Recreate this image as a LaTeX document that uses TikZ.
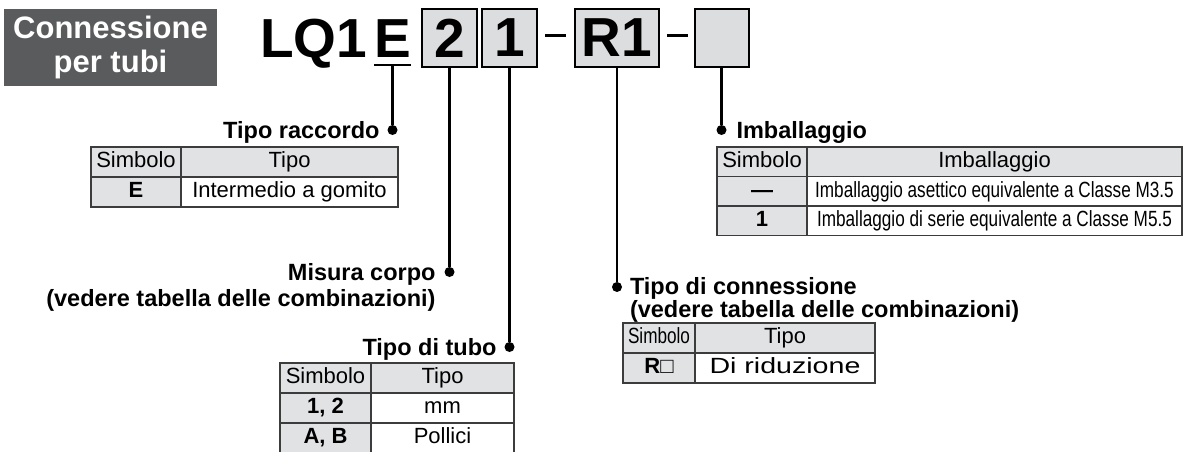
\documentclass[tikz,border=0pt]{standalone}
\usepackage{fontspec}
\setsansfont{Liberation Sans}
\newfontfamily\narrowsans[FakeStretch=0.78]{Liberation Sans}
\newfontfamily\widesans[FakeStretch=1.3]{Liberation Sans}
\usetikzlibrary{positioning}
\definecolor{titlegray}{HTML}{5A5B5D}
\definecolor{boxgray}{HTML}{DCDDDF}
\definecolor{cellgray}{HTML}{E1E2E4}
\definecolor{rulegray}{HTML}{3C3C3C}

\begin{document}
\begin{tikzpicture}[x=1pt, y=-1pt,
    every node/.style={outer sep=0pt},
    title/.style={fill=titlegray, text=white, align=center, minimum width=213pt, minimum height=77pt, inner sep=0pt,
      font=\sffamily\bfseries\fontsize{31}{34}\selectfont},
    code/.style={inner sep=0pt, font=\sffamily\bfseries\fontsize{55}{55}\selectfont},
    codebox/.style={code, draw, line width=2pt, fill=boxgray, minimum height=58pt},
    bar/.style={fill=black, inner sep=0pt, minimum width=21pt, minimum height=3pt},
    dot/.style={circle, fill=black, inner sep=0pt, minimum size=10pt},
    lead/.style={line width=2.4pt},
    lbl/.style={inner sep=0pt, text depth=0pt, font=\sffamily\bfseries\fontsize{23.5}{26}\selectfont},
    cell/.style={draw=rulegray, line width=1.1pt, inner sep=0pt, minimum height=30pt, text height=16pt, text depth=4.5pt,
      font=\sffamily\fontsize{22}{24}\selectfont},
    hcell/.style={cell, fill=cellgray}
  ]
  \useasboundingbox (0,0) rectangle (1183,452);

  % title and order code
  \node[title] (titel) at (110.5,47.5) {Connessione\\per tubi};
  \node[code, anchor=base west] (codelq) at (260,58) {LQ1};
  \node[code, minimum width=37pt, inner ysep=7pt, anchor=base] (codee) at (392.5,58) {E};
  \draw[line width=1.4pt] (codee.south west) -- (codee.south east);
  \node[codebox, minimum width=55pt] (box2) at (449.5,38) {2};
  \node[codebox, minimum width=55pt, right=5pt of box2] (box1) {1};
  \node[bar, right=8pt of box1, yshift=2pt] (dash1) {};
  \node[codebox, minimum width=84pt, right=9pt of dash1, yshift=-2pt] (boxr) {R1};
  \node[bar, right=7.5pt of boxr, yshift=2pt] (dash2) {};
  \node[codebox, minimum width=54pt, right=7pt of dash2, yshift=-2pt] (boxpk) {};

  % dots and labels
  \node[dot] (dotrac) at (392.5,130) {};
  \node[lbl, left=8pt of dotrac] (lblrac) {Tipo raccordo};
  \node[dot] (dotimb) at (721.5,130) {};
  \node[lbl, right=10pt of dotimb] (lblimb) {Imballaggio};
  \node[dot] (dotsize) at (449.5,272) {};
  \node[lbl, align=right, anchor=north east] (lblsize) at ([xshift=-9pt, yshift=8.6pt]dotsize.west)
    {Misura corpo\\(vedere tabella delle combinazioni)};
  \node[dot] (dottubo) at (509.5,347) {};
  \node[lbl, left=8pt of dottubo] (lbltubo) {Tipo di tubo};
  \node[dot] (dotconn) at (617,287) {};
  \node[lbl, align=left, anchor=north west, font=\sffamily\bfseries\fontsize{23.5}{23}\selectfont] (lblconn)
    at ([xshift=8pt, yshift=9.5pt]dotconn.east)
    {Tipo di connessione\\(vedere tabella delle combinazioni)};

  \draw[lead] (codee.south) -- (dotrac);
  \draw[lead] (box2.south) -- (dotsize);
  \draw[lead] (box1.south) -- (dottubo);
  \draw[lead] (boxr.south) -- (dotconn);
  \draw[lead] (boxpk.south) -- (dotimb);

  % Tipo raccordo
  \node[hcell, minimum width=90pt, anchor=north west] (rac11) at (91,147) {Simbolo};
  \node[hcell, minimum width=217pt, right=0pt of rac11] (rac12) {Tipo};
  \node[hcell, minimum width=90pt, below=0pt of rac11] (rac21) {\bfseries E};
  \node[cell, minimum width=217pt, right=0pt of rac21] (rac22) {Intermedio a gomito};

  % Imballaggio
  \node[hcell, minimum width=90pt, minimum height=29.5pt, anchor=north west] (imb11) at (717,147) {Simbolo};
  \node[hcell, minimum width=375pt, minimum height=29.5pt, right=0pt of imb11] (imb12) {Imballaggio};
  \node[hcell, minimum width=90pt, minimum height=29.5pt, below=0pt of imb11] (imb21) {\bfseries —};
  \node[cell, minimum width=375pt, minimum height=29.5pt, right=0pt of imb21] (imb22)
    {\narrowsans Imballaggio asettico equivalente a Classe M3.5};
  \node[hcell, minimum width=90pt, minimum height=29.5pt, below=0pt of imb21] (imb31) {\bfseries 1};
  \node[cell, minimum width=375pt, minimum height=29.5pt, right=0pt of imb31] (imb32)
    {\narrowsans Imballaggio di serie equivalente a Classe M5.5};

  % Tipo di connessione
  \node[hcell, minimum width=72pt, anchor=north west] (con11) at (623,323) {\narrowsans Simbolo};
  \node[hcell, minimum width=180pt, right=0pt of con11] (con12) {Tipo};
  \node[hcell, minimum width=72pt, below=0pt of con11] (con21) {\textbf{R}□};
  \node[cell, minimum width=180pt, right=0pt of con21] (con22) {\widesans Di riduzione};

  % Tipo di tubo
  \node[hcell, minimum width=91pt, anchor=north west] (tub11) at (280,363) {Simbolo};
  \node[hcell, minimum width=143pt, right=0pt of tub11] (tub12) {Tipo};
  \node[hcell, minimum width=91pt, below=0pt of tub11] (tub21) {\bfseries 1, 2};
  \node[cell, minimum width=143pt, right=0pt of tub21] (tub22) {mm};
  \node[hcell, minimum width=91pt, below=0pt of tub21] (tub31) {\bfseries A, B};
  \node[cell, minimum width=143pt, right=0pt of tub31] (tub32) {Pollici};
\end{tikzpicture}
\end{document}
